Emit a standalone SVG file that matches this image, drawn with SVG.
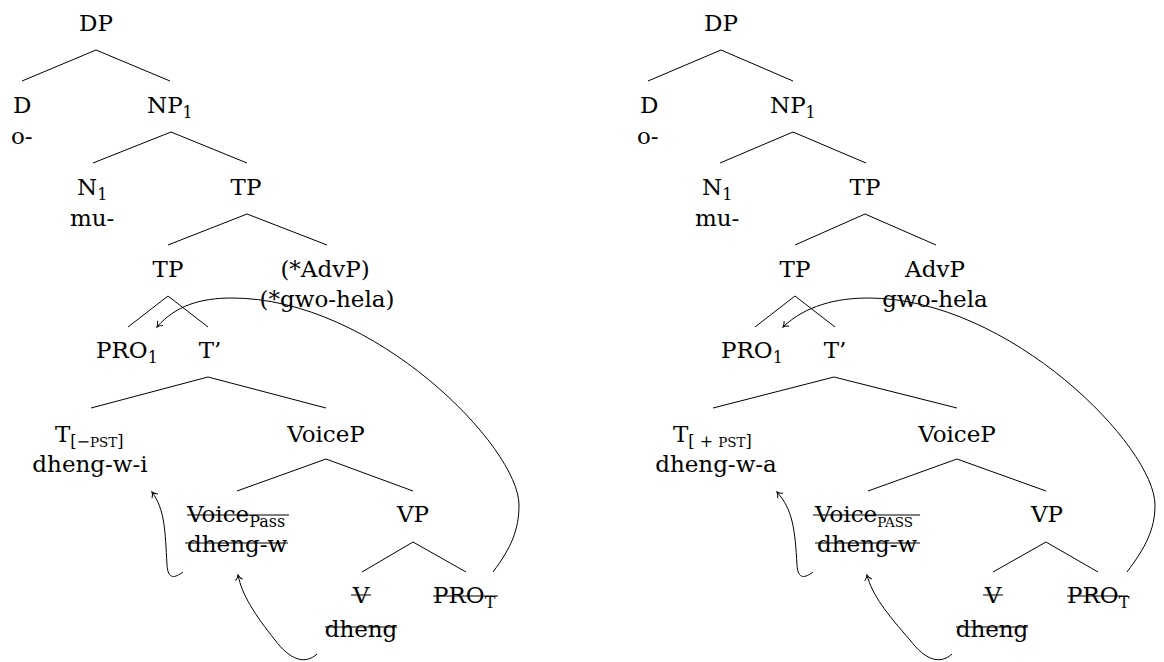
<svg xmlns="http://www.w3.org/2000/svg" width="1164" height="662" viewBox="0 0 1164 662">
<style>
.t{font-family:"DejaVu Serif",serif;font-size:23px;fill:#000}
.sub{font-size:16px}
.sc{font-size:13.5px}
.m{text-anchor:middle}
.e line,.st{stroke:#000;stroke-width:1}
.a path{fill:none;stroke:#000;stroke-width:1}
</style>
<defs>
<marker id="to" markerUnits="userSpaceOnUse" markerWidth="12" markerHeight="12" refX="0" refY="0" viewBox="-7 -6 8 12" orient="auto">
<path d="M-5,-3.6 C-3,-1.2 -1,-0.3 0,0 C-1,0.3 -3,1.2 -5,3.6" fill="none" stroke="#000" stroke-width="1"/>
</marker>
</defs>
<rect width="1164" height="662" fill="#fff"/>
<g id="edges" class="e">
<line x1="96" y1="50" x2="22" y2="81"/><line x1="96" y1="50" x2="170" y2="81"/>
<line x1="171" y1="132" x2="93" y2="163"/><line x1="171" y1="132" x2="247" y2="163"/>
<line x1="247" y1="214" x2="168" y2="245"/><line x1="247" y1="214" x2="327" y2="245"/>
<line x1="168" y1="296" x2="128" y2="327"/><line x1="168" y1="296" x2="208" y2="327"/>
<line x1="208" y1="377" x2="91" y2="408"/><line x1="208" y1="377" x2="326" y2="408"/>
<line x1="326" y1="459" x2="237" y2="491"/><line x1="326" y1="459" x2="413" y2="491"/>
<line x1="413" y1="542" x2="362" y2="572"/><line x1="413" y1="542" x2="466" y2="572"/>
<line x1="721" y1="50" x2="648" y2="81"/><line x1="721" y1="50" x2="793" y2="81"/>
<line x1="793" y1="132" x2="720" y2="163"/><line x1="793" y1="132" x2="866" y2="163"/>
<line x1="865" y1="214" x2="795" y2="245"/><line x1="865" y1="214" x2="936" y2="245"/>
<line x1="795" y1="296" x2="755" y2="327"/><line x1="795" y1="296" x2="835" y2="327"/>
<line x1="834" y1="377" x2="713" y2="408"/><line x1="834" y1="377" x2="957" y2="408"/>
<line x1="957" y1="459" x2="868" y2="491"/><line x1="957" y1="459" x2="1046" y2="491"/>
<line x1="1046" y1="542" x2="993" y2="572"/><line x1="1046" y1="542" x2="1098" y2="572"/>
</g>
<g id="arrows" class="a">
<path marker-end="url(#to)" d="M183,572 C175,578 168,580 167,565 C165,530 165,510 152,492"/>
<path marker-end="url(#to)" d="M317,654 C305,665 290,660 275,640 C255,615 242,595 238,575"/>
<path marker-end="url(#to)" d="M493,572 C511,548 519,530 519,505 C519,447 374,298 232,298 C200,298 175,306 157,327"/>
<path marker-end="url(#to)" d="M813,572 C805,578 798,580 797,565 C795,530 793,510 777,492"/>
<path marker-end="url(#to)" d="M952,654 C940,665 925,660 910,640 C888,615 872,595 867,575"/>
<path marker-end="url(#to)" d="M1127,572 C1145,548 1155,530 1155,505 C1155,447 1010,298 868,298 C836,298 805,306 783,327"/>
</g>
<!-- left tree -->
<g id="L-DP"><text class="t m" x="96" y="31">DP</text></g>
<g id="L-D"><text class="t" x="13" y="113">D</text><text class="t" x="11" y="144">o-</text></g>
<g id="L-NP1"><text class="t" x="147" y="113">NP<tspan class="sub" dy="5">1</tspan></text></g>
<g id="L-N1"><text class="t" x="77" y="195">N<tspan class="sub" dy="5">1</tspan></text><text class="t" x="70" y="226">mu-</text></g>
<g id="L-TP1"><text class="t m" x="246" y="195">TP</text></g>
<g id="L-TP2"><text class="t m" x="168" y="277">TP</text></g>
<g id="L-AdvP"><text class="t m" x="325" y="277">(*AdvP)</text><text class="t m" x="327" y="307">(*gwo-hela)</text></g>
<g id="L-PRO1"><text class="t" x="96" y="358">PRO<tspan class="sub" dy="5">1</tspan></text></g>
<g id="L-Tbar"><text class="t m" x="210" y="358">T’</text></g>
<g id="L-T"><text class="t" x="55" y="442">T<tspan class="sub" dy="5">[−</tspan><tspan class="sc">PST</tspan><tspan class="sub">]</tspan></text><text class="t m" x="90" y="472">dheng-w-i</text></g>
<g id="L-VoiceP"><text class="t m" x="326" y="442">VoiceP</text></g>
<g id="L-Voice"><text class="t" x="187" y="522">Voice<tspan class="sub" dy="5">Pass</tspan></text><text class="t" x="187" y="552">dheng-w</text><line class="st" x1="187" y1="515" x2="289" y2="515"/><line class="st" x1="185" y1="543" x2="288" y2="543"/></g>
<g id="L-VP"><text class="t m" x="413" y="522">VP</text></g>
<g id="L-V"><text class="t m" x="361" y="603">V</text><text class="t m" x="361" y="637">dheng</text><line class="st" x1="351" y1="595" x2="371" y2="595"/><line class="st" x1="325" y1="627" x2="397" y2="627"/></g>
<g id="L-PROT"><text class="t" x="433" y="603">PRO<tspan class="sub" dy="5">T</tspan></text><line class="st" x1="433" y1="596" x2="498" y2="596"/></g>
<!-- right tree -->
<g id="R-DP"><text class="t m" x="721" y="31">DP</text></g>
<g id="R-D"><text class="t" x="640" y="113">D</text><text class="t" x="637" y="144">o-</text></g>
<g id="R-NP1"><text class="t" x="770" y="113">NP<tspan class="sub" dy="5">1</tspan></text></g>
<g id="R-N1"><text class="t" x="702" y="195">N<tspan class="sub" dy="5">1</tspan></text><text class="t" x="695" y="226">mu-</text></g>
<g id="R-TP1"><text class="t m" x="865" y="195">TP</text></g>
<g id="R-TP2"><text class="t m" x="795" y="277">TP</text></g>
<g id="R-AdvP"><text class="t m" x="935" y="277">AdvP</text><text class="t m" x="935" y="307">gwo-hela</text></g>
<g id="R-PRO1"><text class="t" x="721" y="358">PRO<tspan class="sub" dy="5">1</tspan></text></g>
<g id="R-Tbar"><text class="t m" x="835" y="358">T’</text></g>
<g id="R-T"><text class="t" x="673" y="442">T<tspan class="sub" dy="5">[ + </tspan><tspan class="sc">PST</tspan><tspan class="sub">]</tspan></text><text class="t m" x="716" y="472">dheng-w-a</text></g>
<g id="R-VoiceP"><text class="t m" x="957" y="442">VoiceP</text></g>
<g id="R-Voice"><text class="t" x="815" y="522">Voice<tspan class="sc" dy="5">PASS</tspan></text><text class="t" x="817" y="552">dheng-w</text><line class="st" x1="813" y1="515" x2="920" y2="515"/><line class="st" x1="815" y1="543" x2="920" y2="543"/></g>
<g id="R-VP"><text class="t m" x="1047" y="522">VP</text></g>
<g id="R-V"><text class="t m" x="993" y="603">V</text><text class="t m" x="992" y="637">dheng</text><line class="st" x1="983" y1="595" x2="1003" y2="595"/><line class="st" x1="956" y1="627" x2="1028" y2="627"/></g>
<g id="R-PROT"><text class="t" x="1067" y="603">PRO<tspan class="sub" dy="5">T</tspan></text><line class="st" x1="1067" y1="596" x2="1128" y2="596"/></g>
</svg>
